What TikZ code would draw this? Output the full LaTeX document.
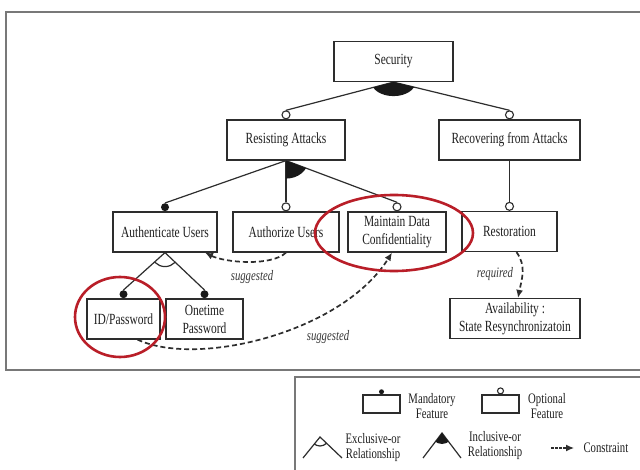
\documentclass[tikz,border=0pt]{standalone}
\usepackage{fontspec}
\setmainfont{Liberation Serif}[FakeStretch=0.74]
\usetikzlibrary{positioning,arrows.meta}
\definecolor{linegray}{RGB}{45,45,45}
\definecolor{framegray}{RGB}{120,120,120}
\definecolor{markred}{RGB}{185,30,40}
\begin{document}
\begin{tikzpicture}[x=1pt,y=-1pt,
  feature/.style={draw=linegray,line width=1.2pt,rectangle,minimum height=40,inner sep=1pt,align=center,text=black!88,font=\fontsize{15.5}{18}\selectfont},
  opt/.style={draw=linegray,line width=1.1pt,circle,fill=white,minimum size=8,inner sep=0},
  mand/.style={circle,fill=black!90,minimum size=8,inner sep=0},
  link/.style={draw=linegray,line width=1.2pt},
  cons/.style={linegray,line width=1.7pt,dash pattern=on 5pt off 3pt,-{Latex[length=8pt,width=7pt]}},
  clabel/.style={font=\fontsize{14.5}{16}\selectfont\itshape,text=black!78},
  legtext/.style={align=center,font=\fontsize{14.5}{15}\selectfont,text=black!88},
  legbox/.style={draw=linegray,line width=1.1pt,minimum width=37,minimum height=18,inner sep=0},
  ring/.style={draw=markred,line width=2.6pt}]
\useasboundingbox[fill=white] (0,0) rectangle (640,470);
\draw[framegray,line width=1.4pt] (6,12) rectangle (650,370);
\draw[framegray,line width=1.4pt] (295,377) rectangle (650,480);
% features
\node[feature,minimum width=119] (sec) at (393.5,61.5) {Security};
\node[feature,minimum width=118] (resist) at (286,140) {Resisting Attacks};
\node[feature,minimum width=141] (recover) at (509.5,140) {Recovering from Attacks};
\node[feature,minimum width=104] (auth) at (165,232) {Authenticate Users};
\node[feature,minimum width=106] (authz) at (286,232) {Authorize Users};
\node[feature,minimum width=98] (conf) at (397,232) {Maintain Data\\Confidentiality};
\node[feature,minimum width=95] (restore) at (509.5,231.5) {Restoration};
\node[feature,minimum width=130] (avail) at (515,318.5) {Availability :\\State Resynchronizatoin};
\node[feature,minimum width=73] (idpw) at (123.5,319) {ID/Password};
\node[feature,minimum width=77] (otp) at (204.5,319) {Onetime\\Password};
% markers
\node[opt,above=0pt of resist] (resist-m) {};
\node[opt,above=0pt of recover] (recover-m) {};
\node[mand,above=0pt of auth] (auth-m) {};
\node[opt,above=0pt of authz] (authz-m) {};
\node[opt,above=0pt of conf] (conf-m) {};
\node[opt,above=0pt of restore] (restore-m) {};
\node[mand,above=0pt of idpw] (idpw-m) {};
\node[mand,above=0pt of otp] (otp-m) {};
% links
\draw[link] (sec.south) -- (resist-m.north);
\draw[link] (sec.south) -- (recover-m.north);
\draw[link] (resist.south) -- (auth-m.north);
\draw[link] (resist.south) -- (authz-m.north);
\draw[link] (resist.south) -- (conf-m.north);
\draw[link] (recover.south) -- (restore-m.north);
\draw[link] (auth.south) -- (idpw-m.north);
\draw[link] (auth.south) -- (otp-m.north);
\begin{scope}
\clip (sec.south) -- (resist-m.north) -- (recover-m.north) -- cycle;
\fill[black!90] (sec.south) ellipse [x radius=22,y radius=14];
\end{scope}
\begin{scope}
\clip (resist.south) -- (authz-m.north) -- (conf-m.north) -- cycle;
\fill[black!90] (resist.south) ellipse [x radius=22,y radius=18];
\end{scope}
\begin{scope}
\clip (auth.south) -- (idpw-m.north) -- (otp-m.north) -- cycle;
\draw[link] (auth.south) circle [radius=14];
\end{scope}
% constraints
\draw[cons] ([xshift=7pt]restore.south) .. controls +(10,14) and +(4,-20) .. ([xshift=3pt]avail.north);
\node[clabel] (req) at (495,274) {required};
\draw[cons] (authz.south) .. controls +(-15,14) and +(20,10) .. ([xshift=40pt]auth.south);
\node[clabel] (sug1) at (252,277) {suggested};
\draw[cons] ([xshift=14pt]idpw.south) .. controls +(60,28) and +(-50,80) .. ([xshift=-5pt]conf.south);
\node[clabel] (sug2) at (328,337) {suggested};
% highlights
\draw[ring] (120,317) ellipse [x radius=45,y radius=40];
\draw[ring] (394,233) ellipse [x radius=79,y radius=38];
% legend
\node[legbox] (lmand) at (381.5,404) {};
\node[circle,fill=black!90,minimum size=5,inner sep=0,above=0pt of lmand] (lmand-m) {};
\node[legtext] (lmand-t) at (432,406) {Mandatory\\Feature};
\node[legbox] (lopt) at (500.5,404) {};
\node[opt,minimum size=6,above=0pt of lopt] (lopt-m) {};
\node[legtext] (lopt-t) at (547,406) {Optional\\Feature};
\coordinate (xor-a) at (320,437);
\coordinate (xor-l) at (303,458);
\coordinate (xor-r) at (342,458);
\draw[link] (xor-l) -- (xor-a) -- (xor-r);
\begin{scope}
\clip (xor-a) -- (xor-l) -- (xor-r) -- cycle;
\draw[link] (xor-a) circle [radius=9];
\end{scope}
\node[legtext] (xor-t) at (373,448) {Exclusive-or\\Relationship};
\coordinate (ior-a) at (442,433);
\coordinate (ior-l) at (423,458);
\coordinate (ior-r) at (461,458);
\draw[link] (ior-l) -- (ior-a) -- (ior-r);
\begin{scope}
\clip (ior-a) -- (ior-l) -- (ior-r) -- cycle;
\fill[black!90] (ior-a) circle [radius=11];
\end{scope}
\node[legtext] (ior-t) at (495,446) {Inclusive-or\\Relationship};
\coordinate (con-a) at (551,448);
\coordinate (con-b) at (574,448);
\draw[cons,line width=1.3pt,dash pattern=on 2.5pt off 1.5pt] (con-a) -- (con-b);
\node[legtext,anchor=west] (con-t) at (580,448) {Constraint};
\end{tikzpicture}
\end{document}
